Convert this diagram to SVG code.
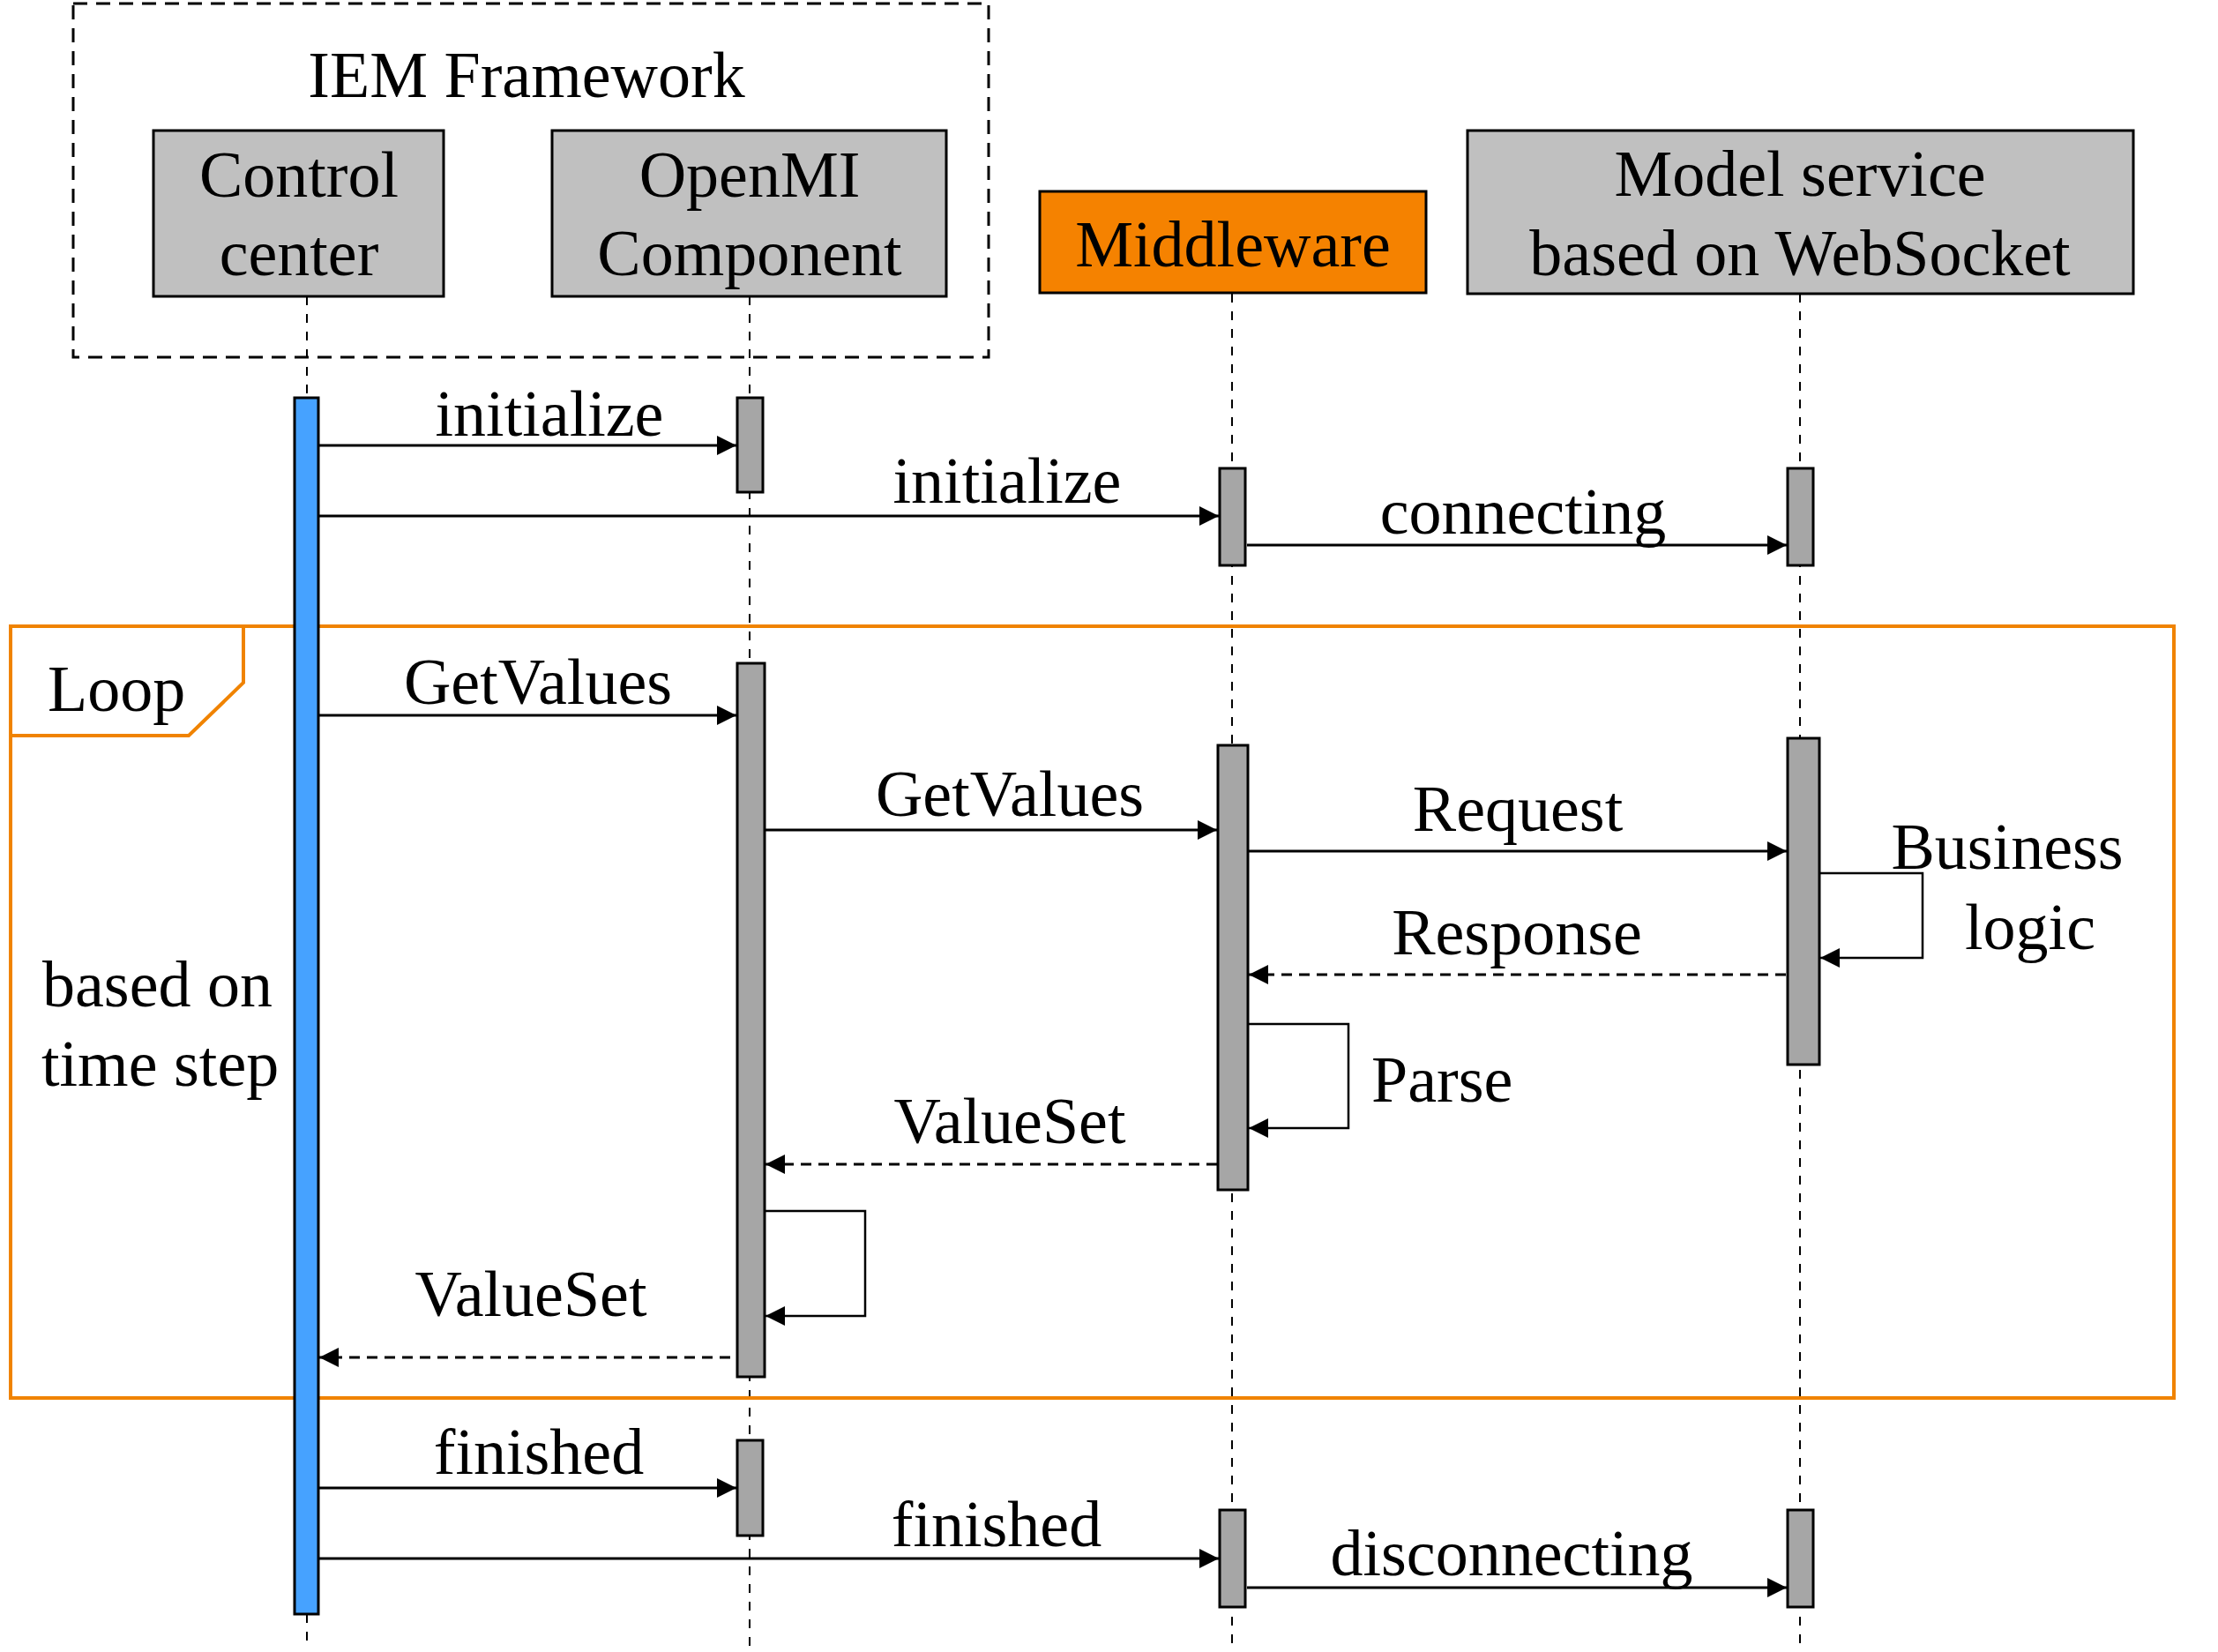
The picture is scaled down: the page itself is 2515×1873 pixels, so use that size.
<svg xmlns="http://www.w3.org/2000/svg" width="2515" height="1873" viewBox="0 0 2515 1873">
<style>
text{font-family:"Liberation Serif","Times New Roman",serif;font-size:74px;fill:#000}
.c{text-anchor:middle}
.hdr{fill:#C0C0C0;stroke:#000;stroke-width:3}
.mw{fill:#F58200;stroke:#000;stroke-width:3}
.life{stroke:#000;stroke-width:2;stroke-dasharray:10 10;fill:none}
.act{fill:#A6A6A6;stroke:#000;stroke-width:3}
.blue{fill:#46A2FF;stroke:#000;stroke-width:3}
.msg{stroke:#000;stroke-width:3;fill:none;marker-end:url(#ah)}
.ret{stroke:#000;stroke-width:3;fill:none;stroke-dasharray:12 8;marker-end:url(#ah)}
.self{stroke:#000;stroke-width:2.5;fill:none;marker-end:url(#ah)}
</style>
<defs>
<marker id="ah" viewBox="0 0 22 22" refX="22" refY="11" markerWidth="22" markerHeight="22" markerUnits="userSpaceOnUse" orient="auto">
<path d="M0,0 L22,11 L0,22 z" fill="#000"/>
</marker>
</defs>
<rect width="2515" height="1873" fill="#fff"/>

<g id="iem-framework">
<rect x="83" y="4" width="1038" height="401" fill="none" stroke="#000" stroke-width="3" stroke-dasharray="16 10"/>
<text class="c" x="597" y="110">IEM Framework</text>
</g>

<g id="lifelines">
<line class="life" x1="348" y1="336" x2="348" y2="451"/>
<line class="life" x1="348" y1="1830" x2="348" y2="1870"/>
<line class="life" x1="850" y1="336" x2="850" y2="1870"/>
<line class="life" x1="1397" y1="333" x2="1397" y2="1870"/>
<line class="life" x1="2041" y1="333" x2="2041" y2="1870"/>
</g>

<g id="loop-frame">
<rect x="12" y="710" width="2453" height="875" fill="none" stroke="#F08300" stroke-width="4"/>
<path d="M12,834 L214,834 L276,774 L276,710" fill="none" stroke="#F08300" stroke-width="4"/>
<text x="54" y="806">Loop</text>
<text x="48" y="1141">based on</text>
<text x="47" y="1231">time step</text>
</g>

<g id="control-center">
<rect class="hdr" x="174" y="148" width="329" height="188"/>
<text class="c" x="339" y="223">Control</text>
<text class="c" x="339" y="312">center</text>
<rect class="blue" x="334" y="451" width="27" height="1379"/>
</g>

<g id="openmi-component">
<rect class="hdr" x="626" y="148" width="447" height="188"/>
<text class="c" x="850" y="223">OpenMI</text>
<text class="c" x="850" y="312">Component</text>
<rect class="act" x="836" y="451" width="29" height="107"/>
<rect class="act" x="836" y="752" width="31" height="809"/>
<rect class="act" x="836" y="1633" width="29" height="108"/>
</g>

<g id="middleware">
<rect class="mw" x="1179" y="217" width="438" height="115"/>
<text class="c" x="1398" y="302">Middleware</text>
<rect class="act" x="1383" y="531" width="29" height="110"/>
<rect class="act" x="1381" y="845" width="34" height="504"/>
<rect class="act" x="1383" y="1712" width="29" height="110"/>
</g>

<g id="model-service">
<rect class="hdr" x="1664" y="148" width="755" height="185"/>
<text class="c" x="2041" y="222">Model service</text>
<text class="c" x="2041" y="312">based on WebSocket</text>
<rect class="act" x="2027" y="531" width="29" height="110"/>
<rect class="act" x="2027" y="837" width="36" height="370"/>
<rect class="act" x="2027" y="1712" width="29" height="110"/>
</g>

<g id="connectors">
<line class="msg" x1="362" y1="505" x2="835" y2="505"/>
<line class="msg" x1="362" y1="585" x2="1382" y2="585"/>
<line class="msg" x1="1414" y1="618" x2="2026" y2="618"/>
<line class="msg" x1="362" y1="811" x2="835" y2="811"/>
<line class="msg" x1="868" y1="941" x2="1380" y2="941"/>
<line class="msg" x1="1416" y1="965" x2="2026" y2="965"/>
<polyline class="self" points="2064,990 2180,990 2180,1086 2064,1086"/>
<line class="ret" x1="2025" y1="1105" x2="1416" y2="1105"/>
<polyline class="self" points="1416,1161 1529,1161 1529,1279 1416,1279"/>
<line class="ret" x1="1380" y1="1320" x2="868" y2="1320"/>
<polyline class="self" points="868,1373 981,1373 981,1492 868,1492"/>
<line class="ret" x1="828" y1="1539" x2="362" y2="1539"/>
<line class="msg" x1="362" y1="1687" x2="835" y2="1687"/>
<line class="msg" x1="362" y1="1767" x2="1382" y2="1767"/>
<line class="msg" x1="1414" y1="1800" x2="2026" y2="1800"/>
</g>

<g id="labels">
<text class="c" x="623" y="494">initialize</text>
<text class="c" x="1142" y="570">initialize</text>
<text class="c" x="1727" y="605">connecting</text>
<text class="c" x="610" y="798">GetValues</text>
<text class="c" x="1145" y="925">GetValues</text>
<text class="c" x="1721" y="942">Request</text>
<text class="c" x="2276" y="985">Business</text>
<text class="c" x="2302" y="1076">logic</text>
<text class="c" x="1720" y="1082">Response</text>
<text x="1555" y="1249">Parse</text>
<text class="c" x="1145" y="1296">ValueSet</text>
<text class="c" x="602" y="1492">ValueSet</text>
<text class="c" x="611" y="1671">finished</text>
<text class="c" x="1130" y="1753">finished</text>
<text class="c" x="1714" y="1786">disconnecting</text>
</g>
</svg>
